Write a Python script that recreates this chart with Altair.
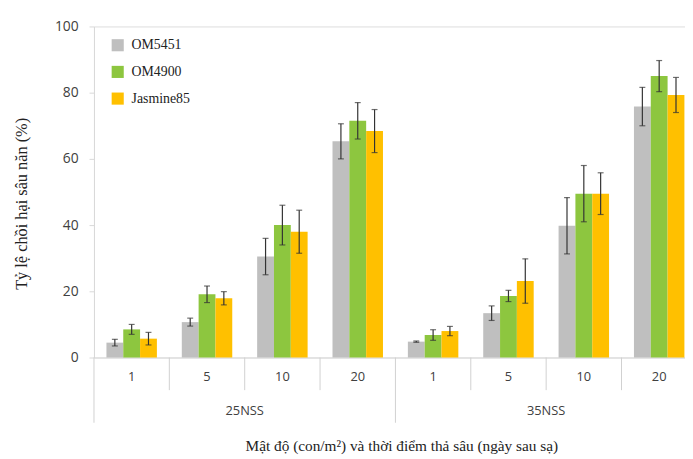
import altair as alt
import pandas as pd

# ---- data ----
groups = ["25NSS", "25NSS", "25NSS", "25NSS", "35NSS", "35NSS", "35NSS", "35NSS"]
densities = ["1", "5", "10", "20", "1", "5", "10", "20"]
varieties = ["OM5451", "OM4900", "Jasmine85"]
om5451 = [4.5, 10.7, 30.5, 65.3, 4.8, 13.4, 39.8, 75.8]
om5451_err = [1.0, 1.2, 5.5, 5.3, 0.2, 2.2, 8.5, 5.8]
om4900 = [8.5, 19.1, 40.0, 71.5, 6.8, 18.6, 49.5, 85.0]
om4900_err = [1.5, 2.5, 6.0, 5.5, 1.6, 1.7, 8.5, 4.7]
jasmine85 = [5.7, 17.9, 38.0, 68.4, 8.0, 23.1, 49.5, 79.3]
jasmine85_err = [1.9, 2.0, 6.5, 6.5, 1.4, 6.7, 6.3, 5.3]
colors = ["#BFBFBF", "#8DC63F", "#FFC000"]
y_ticks = [0, 20, 40, 60, 80, 100]

cats = [f"{g}|{d}" for g, d in zip(groups, densities)]

rows = []
for i, c in enumerate(cats):
    for v, vals, errs in zip(varieties, [om5451, om4900, jasmine85],
                             [om5451_err, om4900_err, jasmine85_err]):
        rows.append({"cat": c, "group": groups[i], "variety": v,
                     "value": vals[i], "lo": vals[i] - errs[i], "hi": vals[i] + errs[i]})
df = pd.DataFrame(rows)

sep_minor = pd.DataFrame({"cat": [c for i, c in enumerate(cats) if i % 4 != 0]})
sep_major = pd.DataFrame({"cat": [c for i, c in enumerate(cats) if i % 4 == 0]})
grp_lab = pd.DataFrame({"cat": [cats[2], cats[6]], "group": [groups[2], groups[6]]})

W, H = 610, 335

xscale = alt.Scale(domain=cats, paddingInner=0, paddingOuter=0)
xaxis = alt.Axis(
    title="Mật độ (con/m²) và thời điểm thả sâu (ngày sau sạ)",
    labelExpr="split(datum.label, '|')[1]", labelAngle=0, ticks=False,
    domainColor="#d9d9d9", labelFont="Open Sans", labelFontSize=13,
    labelColor="#404040", labelPadding=13,
    titleFont="Liberation Serif", titleFontSize=15.5, titleFontWeight="normal",
    titleColor="#222222", titleY=89, titleX=311, titleBaseline="middle",
)
x_enc = alt.X("cat:N", sort=cats, scale=xscale, axis=xaxis)
x_plain = alt.X("cat:N", sort=cats, scale=xscale)
xoff = alt.XOffset("variety:N", sort=varieties,
                   scale=alt.Scale(domain=varieties, paddingInner=0, paddingOuter=0.74))

yscale = alt.Scale(domain=[0, 100])
yaxis = alt.Axis(
    title="Tỷ lệ chồi hại sâu năn (%)", values=y_ticks, grid=False,
    domainColor="#d9d9d9", tickColor="#d9d9d9", tickSize=5,
    labelFont="Open Sans", labelFontSize=14, labelColor="#404040", labelPadding=11,
    titleFont="Liberation Serif", titleFontSize=16.5, titleFontWeight="normal",
    titleColor="#222222", titleX=-73, titleY=179, titleBaseline="middle",
)

base = alt.Chart(df)

bars = base.mark_bar().encode(
    x=x_enc,
    xOffset=xoff,
    y=alt.Y("value:Q", scale=yscale, axis=yaxis),
    color=alt.Color("variety:N", sort=varieties,
                    scale=alt.Scale(domain=varieties, range=colors),
                    legend=alt.Legend(title=None, orient="none", legendX=17, legendY=12,
                                      symbolType="square", symbolSize=150,
                                      symbolStrokeWidth=0,
                                      labelFont="Liberation Serif", labelFontSize=14,
                                      labelColor="#222222", rowPadding=13,
                                      labelOffset=7)),
)

err = base.mark_rule(color="#333333", strokeWidth=1.2).encode(
    x=x_plain, xOffset=xoff, y=alt.Y("lo:Q", scale=yscale), y2="hi:Q")
cap_lo = base.mark_tick(color="#333333", thickness=1.2, size=6).encode(
    x=x_plain, xOffset=xoff, y=alt.Y("lo:Q", scale=yscale))
cap_hi = base.mark_tick(color="#333333", thickness=1.2, size=6).encode(
    x=x_plain, xOffset=xoff, y=alt.Y("hi:Q", scale=yscale))

x_edge = alt.X("cat:N", sort=cats, scale=xscale, bandPosition=0)
minor = alt.Chart(sep_minor).mark_rule(color="#d0d0d0", strokeWidth=1).encode(
    x=x_edge, y=alt.value(H), y2=alt.value(H + 33))
major = alt.Chart(sep_major).mark_rule(color="#d0d0d0", strokeWidth=1).encode(
    x=x_edge, y=alt.value(H), y2=alt.value(H + 66))
glab = alt.Chart(grp_lab).mark_text(font="Open Sans", fontSize=13, color="#404040",
                                    baseline="middle").encode(
    x=x_edge, y=alt.value(H + 54), text="group:N")

chart = alt.layer(bars, err, cap_lo, cap_hi, minor, major, glab).properties(
    width=W, height=H,
    autosize=alt.AutoSizeParams(type="none"),
    padding={"left": 87, "top": 16, "right": -12, "bottom": 100},
).configure_view(stroke=None).configure(background="white")

chart.save("out.html", embed_options={"renderer": "svg", "actions": False})
